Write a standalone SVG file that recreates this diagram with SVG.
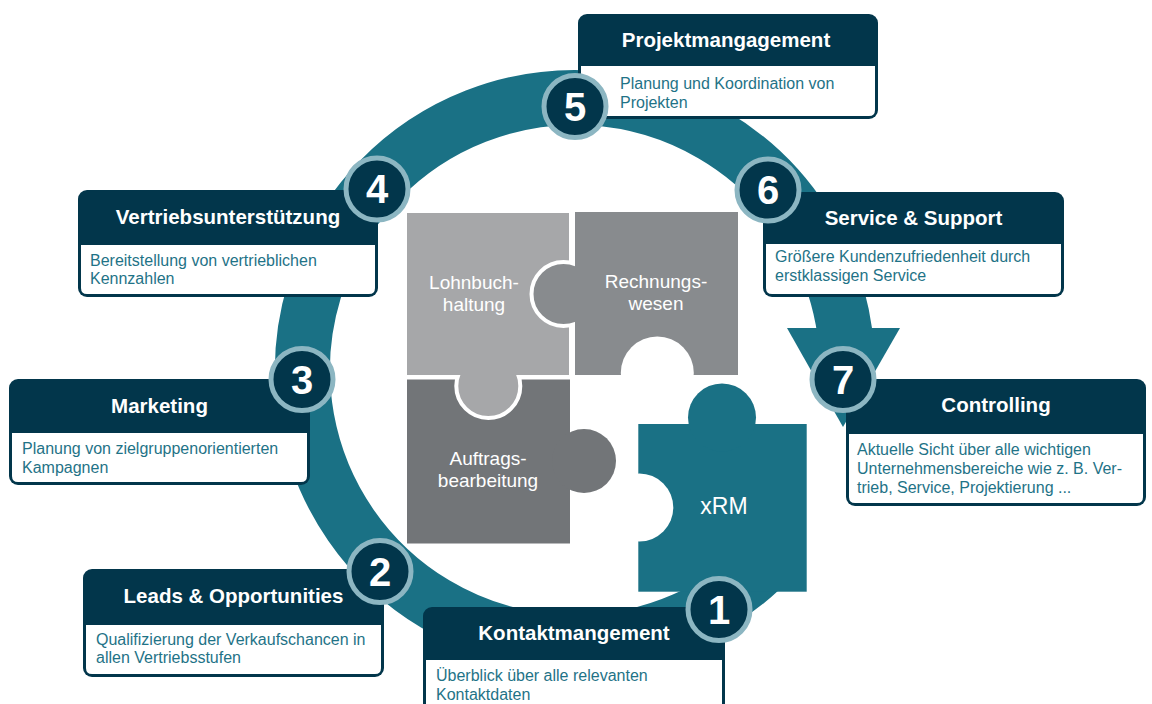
<svg xmlns="http://www.w3.org/2000/svg" width="1152" height="704" viewBox="0 0 1152 704">
<style>
.ring{fill:none;stroke:#1a7185;stroke-width:55}
.hdr{fill:#02364b}
.body{fill:#ffffff}
.ttl{font-family:"Liberation Sans",Arial,sans-serif;font-weight:bold;font-size:20.5px;fill:#ffffff;text-anchor:middle}
.txt{font-family:"Liberation Sans",Arial,sans-serif;font-size:16px;fill:#1f7387}
.num circle{fill:#02364b;stroke:#8cb6c2;stroke-width:5}
.num text{font-family:"Liberation Sans",Arial,sans-serif;font-weight:bold;font-size:40px;fill:#ffffff;text-anchor:middle}
.pz{font-family:"Liberation Sans",Arial,sans-serif;font-size:19px;fill:#ffffff;text-anchor:middle}
</style>
<rect width="1152" height="704" fill="#ffffff"/>
<g id="connectors">
<path class="ring" d="M777.5 552.3 A272.5 272.5 0 1 1 844.8 332.1"/>
<polygon points="787,328 900,328 843,427" fill="#1a7185"/>
</g>
<g id="puzzle">
<g id="lohnbuchhaltung">
<rect x="407" y="213" width="162" height="162" fill="#a6a7a9"/>
</g>
<g id="rechnungswesen">
<circle cx="563.5" cy="294" r="32" fill="#888b8e" stroke="#ffffff" stroke-width="4"/>
<rect x="575" y="212" width="163" height="163" fill="#888b8e"/>
<circle cx="657.3" cy="373" r="36.5" fill="#ffffff"/>
<text class="pz" x="656" y="287.5">Rechnungs-</text>
<text class="pz" x="656" y="309.5">wesen</text>
</g>
<g id="auftragsbearbeitung">
<rect x="407" y="379.5" width="163" height="164" fill="#727578"/>
<circle cx="488.3" cy="386" r="32" fill="#a6a7a9" stroke="#ffffff" stroke-width="4"/>
<rect x="407" y="350" width="162" height="25" fill="#a6a7a9"/>
<circle cx="584" cy="461" r="32" fill="#727578"/>
<text class="pz" x="488" y="464.5">Auftrags-</text>
<text class="pz" x="488" y="486.5">bearbeitung</text>
</g>
<text class="pz" x="474" y="288.5">Lohnbuch-</text>
<text class="pz" x="474" y="311">haltung</text>
<g id="xrm">
<rect x="638.3" y="424" width="168.4" height="167.7" fill="#1a7185"/>
<circle cx="722" cy="417.5" r="34" fill="#1a7185"/>
<circle cx="639.3" cy="507.5" r="34" fill="#ffffff"/>
<text class="pz" x="724" y="514" style="font-size:23px">xRM</text>
</g>
</g>
<g id="box1">
<rect class="hdr" x="423" y="607" width="302" height="110" rx="9"/>
<path class="body" d="M426 660 H722 V711 Q722 714 719 714 H429 Q426 714 426 711 Z"/>
<text class="ttl" x="574" y="640">Kontaktmangement</text>
<text class="txt" x="436" y="681">Überblick über alle relevanten</text>
<text class="txt" x="436" y="699.5">Kontaktdaten</text>
</g>
<g id="box2">
<rect class="hdr" x="83" y="569" width="301" height="108" rx="9"/>
<path class="body" d="M86 625 H381 V668 Q381 674 375 674 H92 Q86 674 86 668 Z"/>
<text class="ttl" x="233.5" y="603">Leads &amp; Opportunities</text>
<text class="txt" x="96" y="644.5">Qualifizierung der Verkaufschancen in</text>
<text class="txt" x="96" y="663">allen Vertriebsstufen</text>
</g>
<g id="box3">
<rect class="hdr" x="9" y="379" width="301" height="106" rx="9"/>
<path class="body" d="M12 433 H307 V476 Q307 482 301 482 H18 Q12 482 12 476 Z"/>
<text class="ttl" x="159.5" y="413">Marketing</text>
<text class="txt" x="22" y="454">Planung von zielgruppenorientierten</text>
<text class="txt" x="22" y="472.5">Kampagnen</text>
</g>
<g id="box4">
<rect class="hdr" x="78" y="190" width="300" height="107" rx="9"/>
<path class="body" d="M81 245 H375 V288 Q375 294 369 294 H87 Q81 294 81 288 Z"/>
<text class="ttl" x="228" y="223.5">Vertriebsunterstützung</text>
<text class="txt" x="90" y="265.5">Bereitstellung von vertrieblichen</text>
<text class="txt" x="90" y="284">Kennzahlen</text>
</g>
<g id="box5">
<rect class="hdr" x="578" y="14" width="300" height="105" rx="9"/>
<path class="body" d="M581 66 H875 V110 Q875 116 869 116 H587 Q581 116 581 110 Z"/>
<text class="ttl" x="726" y="47">Projektmangagement</text>
<text class="txt" x="620" y="89">Planung und Koordination von</text>
<text class="txt" x="620" y="107.5">Projekten</text>
</g>
<g id="box6">
<rect class="hdr" x="763" y="192" width="301" height="105" rx="9"/>
<path class="body" d="M766 244 H1061 V288 Q1061 294 1055 294 H772 Q766 294 766 288 Z"/>
<text class="ttl" x="913.5" y="225">Service &amp; Support</text>
<text class="txt" x="775" y="262">Größere Kundenzufriedenheit durch</text>
<text class="txt" x="775" y="281">erstklassigen Service</text>
</g>
<g id="box7">
<rect class="hdr" x="846" y="379" width="300" height="127" rx="9"/>
<path class="body" d="M849 434 H1143 V497 Q1143 503 1137 503 H855 Q849 503 849 497 Z"/>
<text class="ttl" x="996" y="412">Controlling</text>
<text class="txt" x="857" y="454.5">Aktuelle Sicht über alle wichtigen</text>
<text class="txt" x="857" y="473.5">Unternehmensbereiche wie z. B. Ver-</text>
<text class="txt" x="857" y="492.5">trieb, Service, Projektierung ...</text>
</g>
<g id="n1" class="num"><circle cx="719" cy="609.5" r="31"/><text x="719" y="623.5">1</text></g>
<g id="n2" class="num"><circle cx="380" cy="571.5" r="31"/><text x="380" y="585.5">2</text></g>
<g id="n3" class="num"><circle cx="302" cy="379.5" r="31"/><text x="302" y="393.5">3</text></g>
<g id="n4" class="num"><circle cx="377" cy="189" r="31"/><text x="377" y="203">4</text></g>
<g id="n5" class="num"><circle cx="575" cy="106.5" r="31"/><text x="575" y="120.5">5</text></g>
<g id="n6" class="num"><circle cx="768" cy="190" r="31"/><text x="768" y="204">6</text></g>
<g id="n7" class="num"><circle cx="843" cy="379.5" r="31"/><text x="843" y="393.5">7</text></g>
</svg>
